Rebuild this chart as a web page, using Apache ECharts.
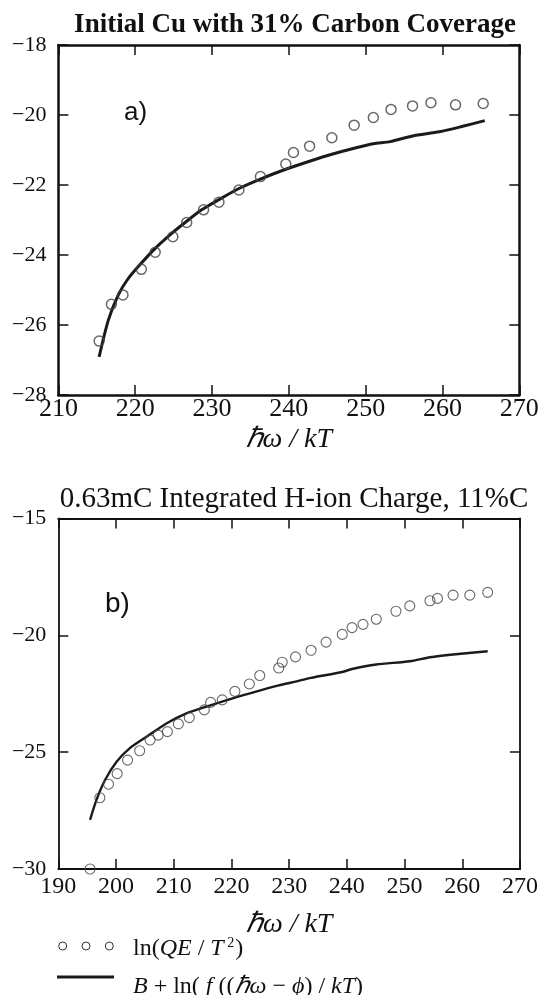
<!DOCTYPE html>
<html><head><meta charset="utf-8">
<script src="https://cdn.jsdelivr.net/npm/echarts@6/dist/echarts.min.js"></script>
<style>html,body{margin:0;padding:0;background:#fff}#c{width:546px;height:995px}</style>
</head><body><div id="c"></div>
<script>
// ---- Panel a) data ----
const aTitle = 'Initial Cu with 31% Carbon Coverage';
const aCircleX = [215.3, 216.9, 218.4, 220.8, 222.6, 224.9, 226.7, 228.9, 230.9, 233.5, 236.3, 239.6, 240.6, 242.7, 245.6, 248.5, 251.0, 253.3, 256.1, 258.5, 261.7, 265.3];
const aCircleY = [-26.46, -25.41, -25.14, -24.41, -23.92, -23.48, -23.07, -22.71, -22.49, -22.14, -21.76, -21.40, -21.07, -20.89, -20.65, -20.29, -20.07, -19.84, -19.74, -19.65, -19.71, -19.67];
const aLineX = [215.3, 216.5, 217.8, 219.0, 220.4, 222.6, 224.75, 226.5, 228.65, 230.8, 233.5, 236.3, 239.6, 242.7, 245.6, 248.5, 251.0, 253.2, 256.1, 259.6, 262.5, 265.5];
const aLineY = [-26.91, -25.86, -25.14, -24.7, -24.33, -23.81, -23.38, -23.07, -22.71, -22.43, -22.1, -21.83, -21.55, -21.32, -21.12, -20.95, -20.82, -20.76, -20.6, -20.48, -20.33, -20.16];
const aXTicks = [210, 270, 10];   // min, max, interval
const aYTicks = [-28, -18, 2];

// ---- Panel b) data ----
const bTitle = '0.63mC Integrated H-ion Charge, 11%C';
const bCircleX = [195.5, 197.2, 198.7, 200.2, 202.0, 204.1, 205.9, 207.3, 208.9, 210.8, 212.7, 215.3, 216.4, 218.4, 220.6, 223.1, 224.9, 228.2, 228.8, 231.1, 233.8, 236.4, 239.2, 240.9, 242.8, 245.1, 248.5, 250.9, 254.4, 255.7, 258.4, 261.3, 264.4];
const bCircleY = [-30.0, -26.95, -26.37, -25.92, -25.34, -24.94, -24.48, -24.27, -24.12, -23.79, -23.52, -23.19, -22.87, -22.76, -22.40, -22.08, -21.72, -21.40, -21.15, -20.92, -20.64, -20.29, -19.96, -19.67, -19.53, -19.31, -18.97, -18.74, -18.52, -18.42, -18.28, -18.28, -18.16];
const bLineX = [195.5, 196.6, 198.1, 200.1, 202.4, 205.3, 208.8, 212.2, 215.7, 219.2, 223.2, 228.2, 231.1, 233.8, 239.2, 240.9, 245.1, 250.9, 254.4, 258.4, 264.4];
const bLineY = [-27.9, -27.05, -26.19, -25.41, -24.83, -24.34, -23.76, -23.34, -23.05, -22.77, -22.48, -22.14, -21.98, -21.82, -21.57, -21.44, -21.25, -21.11, -20.94, -20.82, -20.68];
const bXTicks = [190, 270, 10];
const bYTicks = [-30, -15, 5];

const xName = 'ℏω / kT';
const seriesNames = ['ln(QE/T²)', 'B + ln(f((ℏω−ϕ)/kT)'];

const SERIF = '"Liberation Serif", "Times New Roman", serif';
const SANS = '"Liberation Sans", Arial, sans-serif';
const zip = (xs, ys) => xs.map((x, i) => [x, ys[i]]);
const minus = v => String(v).replace('-', '\u2212');

function axesFor(grid, xr, yr, lw, xFont, xMargin, yFont, nameGap) {
  const line = {show: true, lineStyle: {color: '#111', width: lw}};
  const tick = {show: true, inside: true, length: 10, lineStyle: {color: '#111', width: 1.5}};
  const xs = [
    {type: 'value', gridIndex: grid, position: 'bottom', min: xr[0], max: xr[1], interval: xr[2],
     axisLine: line, axisTick: tick, splitLine: {show: false},
     axisLabel: {fontFamily: SERIF, fontSize: xFont, color: '#111', margin: xMargin},
     name: xName, nameLocation: 'middle', nameGap: nameGap,
     nameTextStyle: {fontFamily: SERIF, fontStyle: 'italic', fontSize: 28, color: '#111'}},
    {type: 'value', gridIndex: grid, position: 'top', min: xr[0], max: xr[1], interval: xr[2],
     axisLine: line, axisTick: tick, splitLine: {show: false}, axisLabel: {show: false}}
  ];
  const ys = [
    {type: 'value', gridIndex: grid, position: 'left', min: yr[0], max: yr[1], interval: yr[2],
     axisLine: line, axisTick: tick, splitLine: {show: false},
     axisLabel: {fontFamily: SERIF, fontSize: yFont, color: '#111', margin: 12, formatter: minus}},
    {type: 'value', gridIndex: grid, position: 'right', min: yr[0], max: yr[1], interval: yr[2],
     axisLine: line, axisTick: tick, splitLine: {show: false}, axisLabel: {show: false}}
  ];
  return {xs, ys};
}

const A = axesFor(0, aXTicks, aYTicks, 2.5, 26, 1, 22, 31);
const B = axesFor(1, bXTicks, bYTicks, 1.8, 24, 6, 22, 42);

const chart = echarts.init(document.getElementById('c'), null, {renderer: 'canvas'});
chart.setOption({
  backgroundColor: '#fff',
  animation: false,
  title: [
    {text: aTitle, left: 290, top: 7, textAlign: 'center',
     textStyle: {fontFamily: SERIF, fontWeight: 'bold', fontSize: 27, color: '#111'}},
    {text: bTitle, left: 289, top: 480, textAlign: 'center',
     textStyle: {fontFamily: SERIF, fontWeight: 'normal', fontSize: 29, color: '#111'}}
  ],
  grid: [
    {left: 58.4, right: 26.7, top: 45, height: 350},
    {left: 58.3, right: 26, top: 518.5, height: 350.5}
  ],
  xAxis: [...A.xs, ...B.xs],
  yAxis: [...A.ys, ...B.ys],
  series: [
    {name: seriesNames[1], type: 'line', xAxisIndex: 0, yAxisIndex: 0, data: zip(aLineX, aLineY),
     showSymbol: false, smooth: 0.25, lineStyle: {color: '#1a1a1a', width: 3}, z: 2},
    {name: seriesNames[0], type: 'scatter', xAxisIndex: 0, yAxisIndex: 0, data: zip(aCircleX, aCircleY),
     symbol: 'circle', symbolSize: 10, itemStyle: {color: 'rgba(255,255,255,0)', borderColor: '#444', borderWidth: 1.5}, z: 3},
    {name: seriesNames[1], type: 'line', xAxisIndex: 2, yAxisIndex: 2, data: zip(bLineX, bLineY),
     showSymbol: false, smooth: 0.25, lineStyle: {color: '#1a1a1a', width: 2.4}, z: 2},
    {name: seriesNames[0], type: 'scatter', xAxisIndex: 2, yAxisIndex: 2, data: zip(bCircleX, bCircleY),
     symbol: 'circle', symbolSize: 10, itemStyle: {color: 'rgba(255,255,255,0)', borderColor: '#444', borderWidth: 1.1}, z: 3}
  ],
  graphic: [
    {type: 'text', left: 124, top: 100, style: {text: 'a)', font: '26px ' + SANS, fill: '#111'}},
    {type: 'text', left: 105, top: 590, style: {text: 'b)', font: '28px ' + SANS, fill: '#111'}},
    {type: 'circle', shape: {cx: 62.7, cy: 946, r: 4}, style: {fill: 'none', stroke: '#333', lineWidth: 1}},
    {type: 'circle', shape: {cx: 86, cy: 946, r: 4}, style: {fill: 'none', stroke: '#333', lineWidth: 1}},
    {type: 'circle', shape: {cx: 109.3, cy: 946, r: 4}, style: {fill: 'none', stroke: '#333', lineWidth: 1}},
    {type: 'text', left: 133, top: 936, style: {
      text: '{n|ln(}{i|QE}{n| / }{i|T}{s| 2}{n|)}',
      rich: {n: {fontFamily: SERIF, fontSize: 24, fill: '#111'},
             i: {fontFamily: SERIF, fontStyle: 'italic', fontSize: 24, fill: '#111'},
             s: {fontFamily: SERIF, fontSize: 14, fill: '#111', padding: [0, 1, 12, 0]}}}},
    {type: 'line', shape: {x1: 57, y1: 977, x2: 114, y2: 977}, style: {stroke: '#1a1a1a', lineWidth: 3.2}},
    {type: 'text', left: 133, top: 975, style: {
      text: '{i|B}{n| + ln( }{i|f}{n| ((}{i|ℏω}{n| − }{i|ϕ}{n|) / }{i|kT}{n|)}',
      rich: {n: {fontFamily: SERIF, fontSize: 24, fill: '#111'},
             i: {fontFamily: SERIF, fontStyle: 'italic', fontSize: 24, fill: '#111'}}}}
  ]
});
</script>
</body></html>
